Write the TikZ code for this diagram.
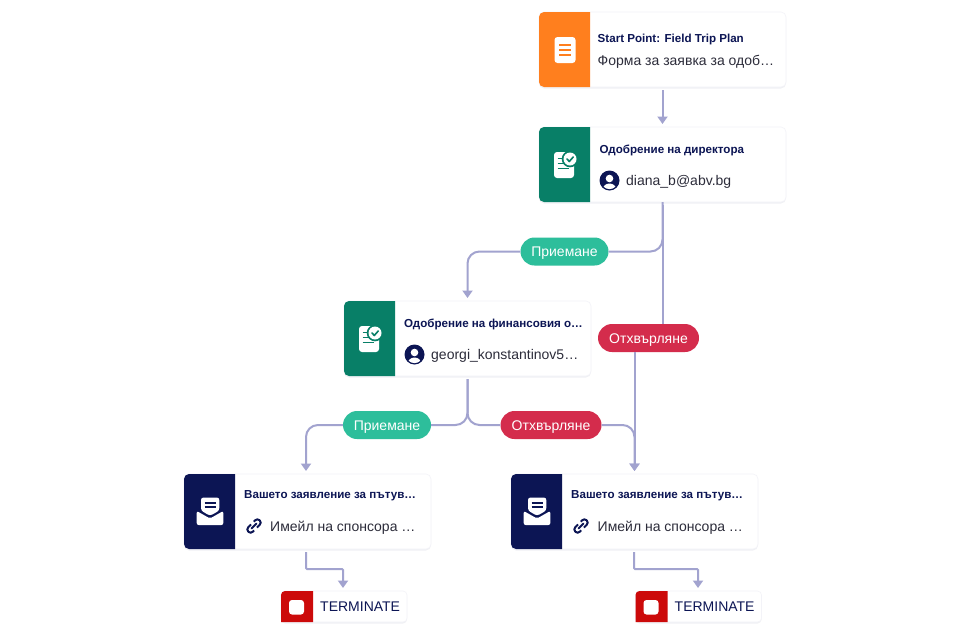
\documentclass[tikz,border=0pt]{standalone}
\usepackage{fontspec}
\setmainfont{Liberation Sans}
\usetikzlibrary{arrows.meta,shadows}
\definecolor{navy}{HTML}{0C1554}
\definecolor{subtxt}{HTML}{2C2C3A}
\definecolor{linec}{HTML}{A2A3CF}
\definecolor{okgreen}{HTML}{2DBE9B}
\definecolor{nored}{HTML}{D42C4C}
\definecolor{appgreen}{HTML}{087F67}
\definecolor{formorange}{HTML}{FF7F1E}
\definecolor{termred}{HTML}{CC0A0A}
\definecolor{edgec}{HTML}{F3F3F8}
\tikzset{
  x=1pt,y=-1pt,
  wfcard/.style={rectangle,rounded corners=5pt,fill=white,draw=edgec,line width=.6pt,inner sep=0pt,outer sep=0pt,
    minimum width=247pt,minimum height=75pt,drop shadow={shadow xshift=0pt,shadow yshift=-1.5pt,opacity=.06,fill=navy}},
  wfterm/.style={wfcard,minimum width=126pt,minimum height=31pt,rounded corners=4pt},
  cardtitle/.style={anchor=west,inner sep=0pt,text=navy,text height=8.3pt,text depth=0pt,font=\fontsize{11.6}{12}\selectfont\bfseries},
  cardsub/.style={anchor=west,inner sep=0pt,text=subtxt,text height=10pt,text depth=0pt,font=\fontsize{14}{15}\selectfont},
  termtxt/.style={anchor=west,inner sep=0pt,text=navy,text height=10pt,text depth=0pt,font=\fontsize{14}{15}\selectfont},
  wfpill/.style={rectangle,rounded corners=14pt,inner sep=0pt,text=white,text height=10pt,text depth=0pt,minimum height=28pt,font=\fontsize{14}{15}\selectfont},
  okpill/.style={wfpill,fill=okgreen,minimum width=88pt},
  nopill/.style={wfpill,fill=nored,minimum width=101pt},
  conn/.style={draw=linec,line width=2pt},
  connarrow/.style={conn,-{Triangle[width=10pt,length=7.5pt]},shorten >=3pt},
}
\newcommand{\wfcardbox}[4]{%
  \node[wfcard] (#1) at (#2,#3) {};
  \fill[#4] (#1.north west) ++(51,0) [rounded corners=5pt] -- ++(-51,0) -- ++(0,75) [sharp corners] -- ++(51,0) -- cycle;
}
\newcommand{\formicon}{%
  \fill[white,rounded corners=3pt] (15.5,25) rectangle (36.5,51);
  \foreach \yy in {33,38,43} \draw[formorange,line width=2.4pt] (20,\yy) -- (32,\yy);
}
\newcommand{\approvalicon}{%
  \fill[white,rounded corners=3pt] (15,25) rectangle (35,51);
  \fill[appgreen] (31,32) circle (8.3);
  \fill[white] (31,32) circle (6.5);
  \draw[appgreen,line width=1.6pt,line cap=round,line join=round] (28,32) -- (30.3,34.5) -- (34.2,30);
  \draw[appgreen,line width=1.6pt] (18.5,31.5) -- (22.5,31.5);
  \draw[appgreen,line width=1.6pt] (18.5,36.5) -- (24.5,36.5);
  \draw[appgreen,line width=1.6pt] (18.5,41.5) -- (30,41.5);
}
\newcommand{\mailicon}{%
  \fill[white,rounded corners=2pt] (12.7,37) -- (12.7,51) -- (39.3,51) -- (39.3,37) -- (26,44.5) -- cycle;
  \fill[white,rounded corners=2.5pt] (17,23.5) -- (35.3,23.5) -- (35.3,36.5) -- (26,41.8) -- (17,36.5) -- cycle;
  \draw[navy,line width=1.7pt] (20.5,28.7) -- (31.5,28.7);
  \draw[navy,line width=1.7pt] (20.5,33) -- (31.5,33);
}
\newcommand{\avatar}[3]{%
  \node[circle,fill=navy,minimum size=20pt,inner sep=0pt] (#1) at (#2,#3) {};
  \begin{scope}
    \clip (#2,#3) circle (8.6);
    \fill[white] (#2,#3-2) circle (3.8);
    \fill[white] (#2,#3+8.5) ellipse (6.5 and 5.5);
  \end{scope}
}
\newcommand{\linkicon}[2]{%
  \begin{scope}[shift={(#1,#2)},rotate=45]
    \draw[navy,line width=2pt,rounded corners=3pt] (-1,-3.2) -- (-8,-3.2) -- (-8,3.2) -- (-3,3.2);
    \draw[navy,line width=2pt,rounded corners=3pt] (1,3.2) -- (8,3.2) -- (8,-3.2) -- (3,-3.2);
    \draw[navy,line width=2pt,line cap=round] (-3.5,0) -- (3.5,0);
  \end{scope}
}
\newcommand{\termbox}[3]{%
  \node[wfterm] (#1) at (#2,#3) {};
  \fill[termred] (#1.north west) ++(32,0) [rounded corners=4pt] -- ++(-32,0) [sharp corners] -- ++(0,31) -- ++(32,0) -- cycle;
  \fill[white,rounded corners=3pt] (#1.north west) ++(8,9) rectangle ++(15,14.5);
  \node[termtxt] (#1-t) at ([xshift=39pt]#1.west) {TERMINATE};
}
\begin{document}
\begin{tikzpicture}
\useasboundingbox (0,0) rectangle (968,633);
\fill[white] (0,0) rectangle (968,633);

% cards
\wfcardbox{c1}{662.5}{49.5}{formorange}
\wfcardbox{c2}{662.5}{164.5}{appgreen}
\wfcardbox{c3}{467.5}{338.5}{appgreen}
\wfcardbox{c4}{307.5}{511.5}{navy}
\wfcardbox{c5}{634.5}{511.5}{navy}
\termbox{t1}{344}{606.5}
\termbox{t2}{698.5}{606.5}

\begin{scope}[shift={(c1.north west)}]\formicon\end{scope}
\begin{scope}[shift={(c2.north west)}]\approvalicon\end{scope}
\begin{scope}[shift={(c3.north west)}]\approvalicon\end{scope}
\begin{scope}[shift={(c4.north west)}]\mailicon\end{scope}
\begin{scope}[shift={(c5.north west)}]\mailicon\end{scope}

% connector helpers
\coordinate (c4out) at (306,549);
\coordinate (c4in) at (306,474);
\coordinate (c5out) at (634,549);
\coordinate (t1in) at (343,591);
\coordinate (t2in) at (698,591);
\coordinate (j1) at (325,569);
\coordinate (j2) at (665,569);

% pills
\node[okpill] (pa1) at (564.5,251.5) {Приемане};
\node[nopill] (pr1) at (648.5,338) {Отхвърляне};
\node[okpill] (pa2) at (387,425) {Приемане};
\node[nopill] (pr2) at (551,425) {Отхвърляне};

% connectors
\draw[connarrow,shorten <=3pt] (c1.south) -- (c2.north);
\draw[conn,shorten <=3pt] (c2.south) -- (c2.south |- pr1.north);
\draw[conn,rounded corners=12pt] (pa1.east) -| (c2.south);
\draw[connarrow,rounded corners=12pt] (pa1.west) -| (c3.north);
\draw[connarrow] (pr1.south -| c5.north) -- (c5.north);
\draw[conn,rounded corners=12pt,shorten >=3pt] (pa2.east) -| (c3.south);
\draw[conn,rounded corners=12pt,shorten >=3pt] (pr2.west) -| (c3.south);
\draw[connarrow,rounded corners=12pt] (pa2.west) -| (c4in);
\draw[connarrow,rounded corners=12pt] (pr2.east) -| (c5.north);
\draw[connarrow,shorten <=3pt,rounded corners=1pt] (c4out) |- (j1) -| (t1in);
\draw[connarrow,shorten <=3pt,rounded corners=1pt] (c5out) |- (j2) -| (t2in);

% texts
\node[cardtitle] (c1-t) at (597.5,38) {Start Point: Field Trip Plan};
\node[cardsub] (c1-s) at (597.5,60.3) {Форма за заявка за одоб…};
\node[cardtitle] (c2-t) at (599.5,149.5) {Одобрение на директора};
\node[cardsub] (c2-s) at (626,180.3) {diana\_b@abv.bg};
\node[cardtitle] (c3-t) at (404,323.5) {Одобрение на финансовия о…};
\node[cardsub] (c3-s) at (431,354.3) {georgi\_konstantinov5…};
\node[cardtitle] (c4-t) at (244,494.5) {Вашето заявление за пътув…};
\node[cardsub] (c4-s) at (270,526.3) {Имейл на спонсора …};
\node[cardtitle] (c5-t) at (571,494.5) {Вашето заявление за пътув…};
\node[cardsub] (c5-s) at (597.5,526.3) {Имейл на спонсора …};

\avatar{a2}{609.5}{180.5}
\avatar{a3}{414.5}{354.5}
\linkicon{254}{526}
\linkicon{581}{526}
\end{tikzpicture}
\end{document}
